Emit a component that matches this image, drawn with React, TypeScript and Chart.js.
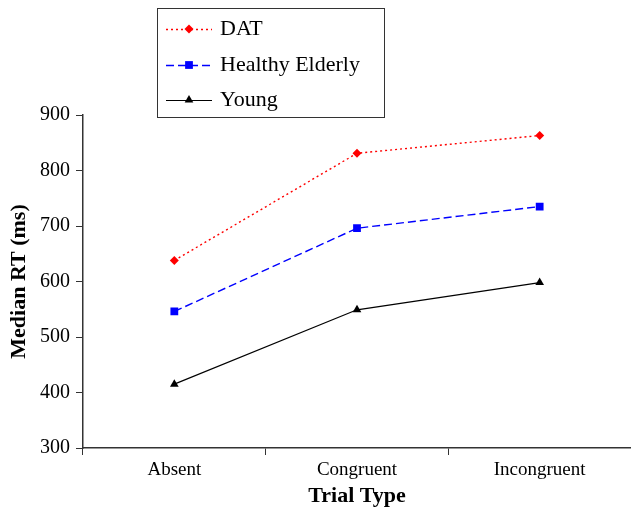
import React, { useEffect, useRef } from "react";
import { Chart, registerables } from "chart.js";

Chart.register(...registerables);

const categories = ["Absent", "Congruent", "Incongruent"];
const datValues = [638, 831, 863];
const healthyElderlyValues = [546, 696, 735];
const youngValues = [415, 549, 598];
const yTicks = [300, 400, 500, 600, 700, 800, 900];

const FONT = '"Liberation Serif", "Times New Roman", serif';

const legendBoxPlugin = {
  id: "legendBox",
  afterDraw(chart: any) {
    const ctx = chart.ctx as CanvasRenderingContext2D;
    const x0 = 157, y0 = 8, w = 227, h = 109;
    ctx.save();
    ctx.strokeStyle = "#333";
    ctx.lineWidth = 1;
    ctx.strokeRect(x0 + 0.5, y0 + 0.5, w, h);
    const rows = [29, 65, 100];
    chart.data.datasets.forEach((ds: any, i: number) => {
      const y = rows[i];
      ctx.save();
      ctx.strokeStyle = ds.borderColor;
      ctx.lineWidth = ds.borderWidth;
      ctx.setLineDash(ds.borderDash || []);
      ctx.beginPath();
      ctx.moveTo(166, y + 0.5);
      ctx.lineTo(212, y + 0.5);
      ctx.stroke();
      ctx.restore();
      ctx.save();
      ctx.fillStyle = ds.pointBackgroundColor;
      const r = ds.pointRadius;
      const cx = 189;
      ctx.beginPath();
      if (ds.pointStyle === "rectRot") {
        ctx.moveTo(cx, y - r);
        ctx.lineTo(cx + r, y);
        ctx.lineTo(cx, y + r);
        ctx.lineTo(cx - r, y);
      } else if (ds.pointStyle === "rect") {
        const s = Math.SQRT1_2 * r;
        ctx.rect(cx - s, y - s, 2 * s, 2 * s);
      } else {
        ctx.moveTo(cx, y - r);
        ctx.lineTo(cx + r * 0.866, y + r * 0.5);
        ctx.lineTo(cx - r * 0.866, y + r * 0.5);
      }
      ctx.closePath();
      ctx.fill();
      ctx.restore();
      ctx.fillStyle = "#000";
      ctx.font = `22px ${FONT}`;
      ctx.textAlign = "left";
      ctx.textBaseline = "middle";
      ctx.fillText(ds.label, 220, y);
    });
    ctx.restore();
  },
};

export default function App() {
  const ref = useRef<HTMLCanvasElement>(null);
  useEffect(() => {
    if (!ref.current) return;
    const chart = new Chart(ref.current, {
      type: "line",
      data: {
        labels: categories,
        datasets: [
          {
            label: "DAT",
            data: datValues,
            borderColor: "#ff0000",
            backgroundColor: "#ff0000",
            pointBackgroundColor: "#ff0000",
            pointBorderColor: "#ff0000",
            borderWidth: 1.4,
            borderDash: [2, 3],
            pointStyle: "rectRot",
            pointRadius: 4.5,
            pointBorderWidth: 0,
            tension: 0,
          },
          {
            label: "Healthy Elderly",
            data: healthyElderlyValues,
            borderColor: "#0000ff",
            backgroundColor: "#0000ff",
            pointBackgroundColor: "#0000ff",
            pointBorderColor: "#0000ff",
            borderWidth: 1.4,
            borderDash: [8, 4],
            pointStyle: "rect",
            pointRadius: 5.5,
            pointBorderWidth: 0,
            tension: 0,
          },
          {
            label: "Young",
            data: youngValues,
            borderColor: "#000000",
            backgroundColor: "#000000",
            pointBackgroundColor: "#000000",
            pointBorderColor: "#000000",
            borderWidth: 1.2,
            pointStyle: "triangle",
            pointRadius: 5,
            pointBorderWidth: 0,
            tension: 0,
          },
        ],
      },
      options: {
        responsive: false,
        animation: false,
        layout: {
          autoPadding: false,
          padding: { top: 115, left: 0, right: -2, bottom: 0 },
        },
        plugins: {
          legend: { display: false },
          tooltip: { enabled: false },
        },
        scales: {
          x: {
            type: "category",
            offset: true,
            grid: {
              offset: true,
              drawOnChartArea: false,
              drawTicks: true,
              tickLength: 7,
              color: "#333",
            },
            border: { display: true, color: "#333", width: 1.5 },
            ticks: {
              color: "#000",
              padding: 4,
              font: { family: FONT, size: 19 },
            },
            title: {
              display: true,
              text: "Trial Type",
              color: "#000",
              font: { family: FONT, size: 22, weight: "bold" },
              padding: { top: 0, bottom: 3 },
            },
            afterFit: (s: any) => {
              s.height = 65;
            },
          },
          y: {
            min: 300,
            max: 900,
            afterBuildTicks: (s: any) => {
              s.ticks = yTicks.map((v) => ({ value: v }));
            },
            grid: {
              drawOnChartArea: false,
              drawTicks: true,
              tickLength: 7,
              color: "#333",
            },
            border: { display: true, color: "#333", width: 1.5 },
            ticks: {
              color: "#000",
              padding: 6,
              font: { family: FONT, size: 20 },
            },
            title: {
              display: true,
              text: "Median RT (ms)",
              color: "#000",
              font: { family: FONT, size: 22, weight: "bold" },
              padding: { top: 6, bottom: 0 },
            },
            afterFit: (s: any) => {
              s.width = 83;
            },
          },
        },
      },
      plugins: [legendBoxPlugin],
    });
    return () => chart.destroy();
  }, []);
  return (
    <canvas
      ref={ref}
      width={631}
      height={513}
      style={{ position: "absolute", left: 0, top: 0, display: "block" }}
    />
  );
}
